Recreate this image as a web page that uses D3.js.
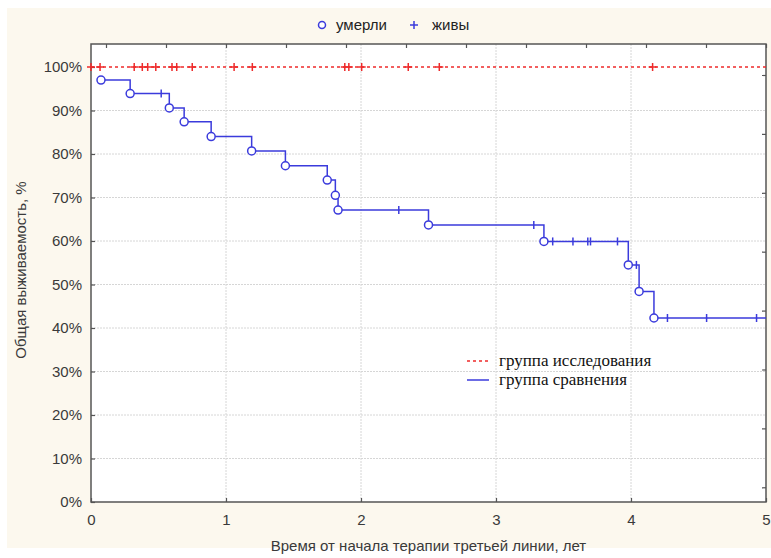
<!DOCTYPE html>
<html>
<head>
<meta charset="utf-8">
<script src="https://cdn.jsdelivr.net/npm/d3@7"></script>
<style>
  html, body { margin: 0; padding: 0; background: #ffffff; }
  svg { display: block; }
</style>
</head>
<body>
<svg id="chart" width="771" height="558"></svg>
<script>
/* Данные (время в годах, выживаемость в %) */

// группа сравнения — смерти (кружки)
const deathTimes = [0.074, 0.29, 0.58, 0.69, 0.89, 1.19, 1.44, 1.75, 1.81, 1.83, 2.50, 3.355, 3.98, 4.06, 4.17];
const deathSurv  = [97.0, 93.9, 90.6, 87.4, 84.0, 80.7, 77.3, 74.0, 70.5, 67.1, 63.7, 59.9, 54.5, 48.4, 42.3];

// группа сравнения — цензурированные (живы)
const compCensTimes = [0.52, 2.28, 3.28, 3.42, 3.57, 3.68, 3.70, 3.90, 4.04, 4.27, 4.56, 4.93];

// группа исследования — все живы, 100%
const studyCensTimes = [0, 0.067, 0.32, 0.38, 0.42, 0.48, 0.60, 0.635, 0.75, 1.06, 1.195, 1.88, 1.91, 2.005, 2.35, 2.58, 4.16];
const studySurv = 100;

const xTicks = [0, 1, 2, 3, 4, 5];
const yTicks = [0, 10, 20, 30, 40, 50, 60, 70, 80, 90, 100];
const maxTime = 5;

const COLORS = {
  page  : '#fcf8ee',
  frame : '#555555',
  grid  : '#d6d6d6',
  text  : '#3a3a3a',
  red   : '#ee2a2a',
  blue  : '#3b3bdc'
};

const svg = d3.select('#chart');

// фон страницы
svg.append('rect')
  .attr('x', 7).attr('y', 8)
  .attr('width', 764).attr('height', 540)
  .attr('fill', COLORS.page);

const plot = {left: 91, right: 766, top: 44, bottom: 502};

const x = d3.scaleLinear().domain([0, maxTime]).range([plot.left, plot.right]);
const y = d3.scaleLinear().domain([0, 100]).range([plot.bottom, 67]);

// белая область графика
svg.append('rect')
  .attr('x', plot.left).attr('y', plot.top)
  .attr('width', plot.right - plot.left).attr('height', plot.bottom - plot.top)
  .attr('fill', '#ffffff');

// сетка
svg.append('g')
  .selectAll('line')
  .data(yTicks.filter(d => d > 0 && d < 100))
  .join('line')
    .attr('x1', plot.left).attr('x2', plot.right)
    .attr('y1', d => y(d)).attr('y2', d => y(d))
    .attr('stroke', COLORS.grid)
    .attr('stroke-dasharray', '2,1');

svg.append('g')
  .selectAll('line')
  .data(xTicks.filter(d => d > 0 && d < maxTime))
  .join('line')
    .attr('x1', d => x(d)).attr('x2', d => x(d))
    .attr('y1', plot.top).attr('y2', plot.bottom)
    .attr('stroke', COLORS.grid)
    .attr('stroke-dasharray', '2,1');

// оси
const axisFont = '"Liberation Sans", Arial, sans-serif';

const gx = svg.append('g')
  .attr('transform', `translate(0,${plot.bottom})`)
  .call(d3.axisBottom(x).tickValues(xTicks).tickSize(-4).tickPadding(12).tickFormat(d3.format('d')));

const gy = svg.append('g')
  .attr('transform', `translate(${plot.left},0)`)
  .call(d3.axisLeft(y).tickValues(yTicks).tickSize(-4).tickPadding(9).tickFormat(d => d + '%'));

// вспомогательные засечки сверху и справа (как в STATISTICA)
const x2 = d3.scaleLinear().domain([-0.25, 11]).range([plot.left, plot.right]);
const y2 = d3.scaleLinear().domain([0, 7.25]).range([75, plot.bottom]);

svg.append('g')
  .attr('transform', `translate(0,${plot.top})`)
  .call(d3.axisTop(x2).ticks(12).tickSize(-4).tickFormat(''));

svg.append('g')
  .attr('transform', `translate(${plot.right},0)`)
  .call(d3.axisRight(y2).tickValues(d3.range(0, 8)).tickSize(-4).tickFormat(''));

svg.selectAll('.domain').remove();
svg.selectAll('.tick line').attr('stroke', COLORS.frame).attr('stroke-width', 1.2);

[gx, gy].forEach(g => g.selectAll('text')
  .attr('font-family', axisFont)
  .attr('font-size', 15)
  .attr('fill', COLORS.text));

// рамка
svg.append('rect')
  .attr('x', plot.left).attr('y', plot.top)
  .attr('width', plot.right - plot.left).attr('height', plot.bottom - plot.top)
  .attr('fill', 'none')
  .attr('stroke', COLORS.frame)
  .attr('stroke-width', 1.5);

// подписи осей
svg.append('text')
  .attr('x', (plot.left + plot.right) / 2)
  .attr('y', 551)
  .attr('text-anchor', 'middle')
  .attr('font-family', axisFont)
  .attr('font-size', 15)
  .attr('fill', COLORS.text)
  .text('Время от начала терапии третьей линии, лет');

svg.append('text')
  .attr('transform', `translate(26,${(plot.top + plot.bottom) / 2 - 3}) rotate(-90)`)
  .attr('text-anchor', 'middle')
  .attr('font-family', axisFont)
  .attr('font-size', 15)
  .attr('fill', COLORS.text)
  .text('Общая выживаемость, %');

// ---- группа исследования (красная пунктирная) ----
svg.append('line')
  .attr('x1', x(0)).attr('x2', x(maxTime))
  .attr('y1', y(studySurv)).attr('y2', y(studySurv))
  .attr('stroke', COLORS.red)
  .attr('stroke-width', 1.3)
  .attr('stroke-dasharray', '3,3');

function plusPath(cx, cy, r) {
  return `M${cx - r},${cy}H${cx + r}M${cx},${cy - r}V${cy + r}`;
}

svg.append('g')
  .selectAll('path')
  .data(studyCensTimes)
  .join('path')
    .attr('d', d => plusPath(x(d), y(studySurv), 4))
    .attr('stroke', COLORS.red)
    .attr('stroke-width', 1.5);

// ---- группа сравнения (синяя ступенчатая) ----
function survAt(t) {
  let s = deathSurv[0];
  deathTimes.forEach((dt, i) => { if (dt <= t) s = deathSurv[i]; });
  return s;
}

const stepPoints = deathTimes.map((t, i) => [t, deathSurv[i]]);
stepPoints.push([maxTime, deathSurv[deathSurv.length - 1]]);

const stepLine = d3.line()
  .x(d => x(d[0]))
  .y(d => y(d[1]))
  .curve(d3.curveStepAfter);

svg.append('path')
  .datum(stepPoints)
  .attr('d', stepLine)
  .attr('fill', 'none')
  .attr('stroke', COLORS.blue)
  .attr('stroke-width', 1.5);

// цензурированные — вертикальные засечки
svg.append('g')
  .selectAll('line')
  .data(compCensTimes)
  .join('line')
    .attr('x1', d => x(d)).attr('x2', d => x(d))
    .attr('y1', d => y(survAt(d)) - 4).attr('y2', d => y(survAt(d)) + 4)
    .attr('stroke', COLORS.blue)
    .attr('stroke-width', 1.5);

// смерти — кружки
svg.append('g')
  .selectAll('circle')
  .data(deathTimes)
  .join('circle')
    .attr('cx', d => x(d))
    .attr('cy', (d, i) => y(deathSurv[i]))
    .attr('r', 4)
    .attr('fill', '#ffffff')
    .attr('stroke', COLORS.blue)
    .attr('stroke-width', 1.5);

// ---- легенда сверху ----
const topLeg = svg.append('g').attr('font-family', axisFont).attr('font-size', 15).attr('fill', '#222');
topLeg.append('circle')
  .attr('cx', 322).attr('cy', 25).attr('r', 3.5)
  .attr('fill', '#fff').attr('stroke', COLORS.blue).attr('stroke-width', 1.5);
topLeg.append('text').attr('x', 336).attr('y', 30).text('умерли');
topLeg.append('path')
  .attr('d', plusPath(414, 25, 4))
  .attr('stroke', COLORS.blue).attr('stroke-width', 1.5);
topLeg.append('text').attr('x', 432).attr('y', 30).text('живы');

// ---- легенда групп ----
const serif = '"Liberation Serif", "Times New Roman", serif';
const groups = [
  {name: 'группа исследования', color: COLORS.red, dash: '3,3'},
  {name: 'группа сравнения', color: COLORS.blue, dash: null}
];

const leg = svg.append('g')
  .selectAll('g')
  .data(groups)
  .join('g')
    .attr('transform', (d, i) => `translate(467,${361 + i * 19})`);

leg.append('line')
  .attr('x1', 0).attr('x2', 22)
  .attr('stroke', d => d.color)
  .attr('stroke-width', 1.5)
  .attr('stroke-dasharray', d => d.dash);

leg.append('text')
  .attr('x', 32).attr('y', 5)
  .attr('font-family', serif)
  .attr('font-size', 17)
  .attr('fill', '#111')
  .text(d => d.name);
</script>
</body>
</html>
